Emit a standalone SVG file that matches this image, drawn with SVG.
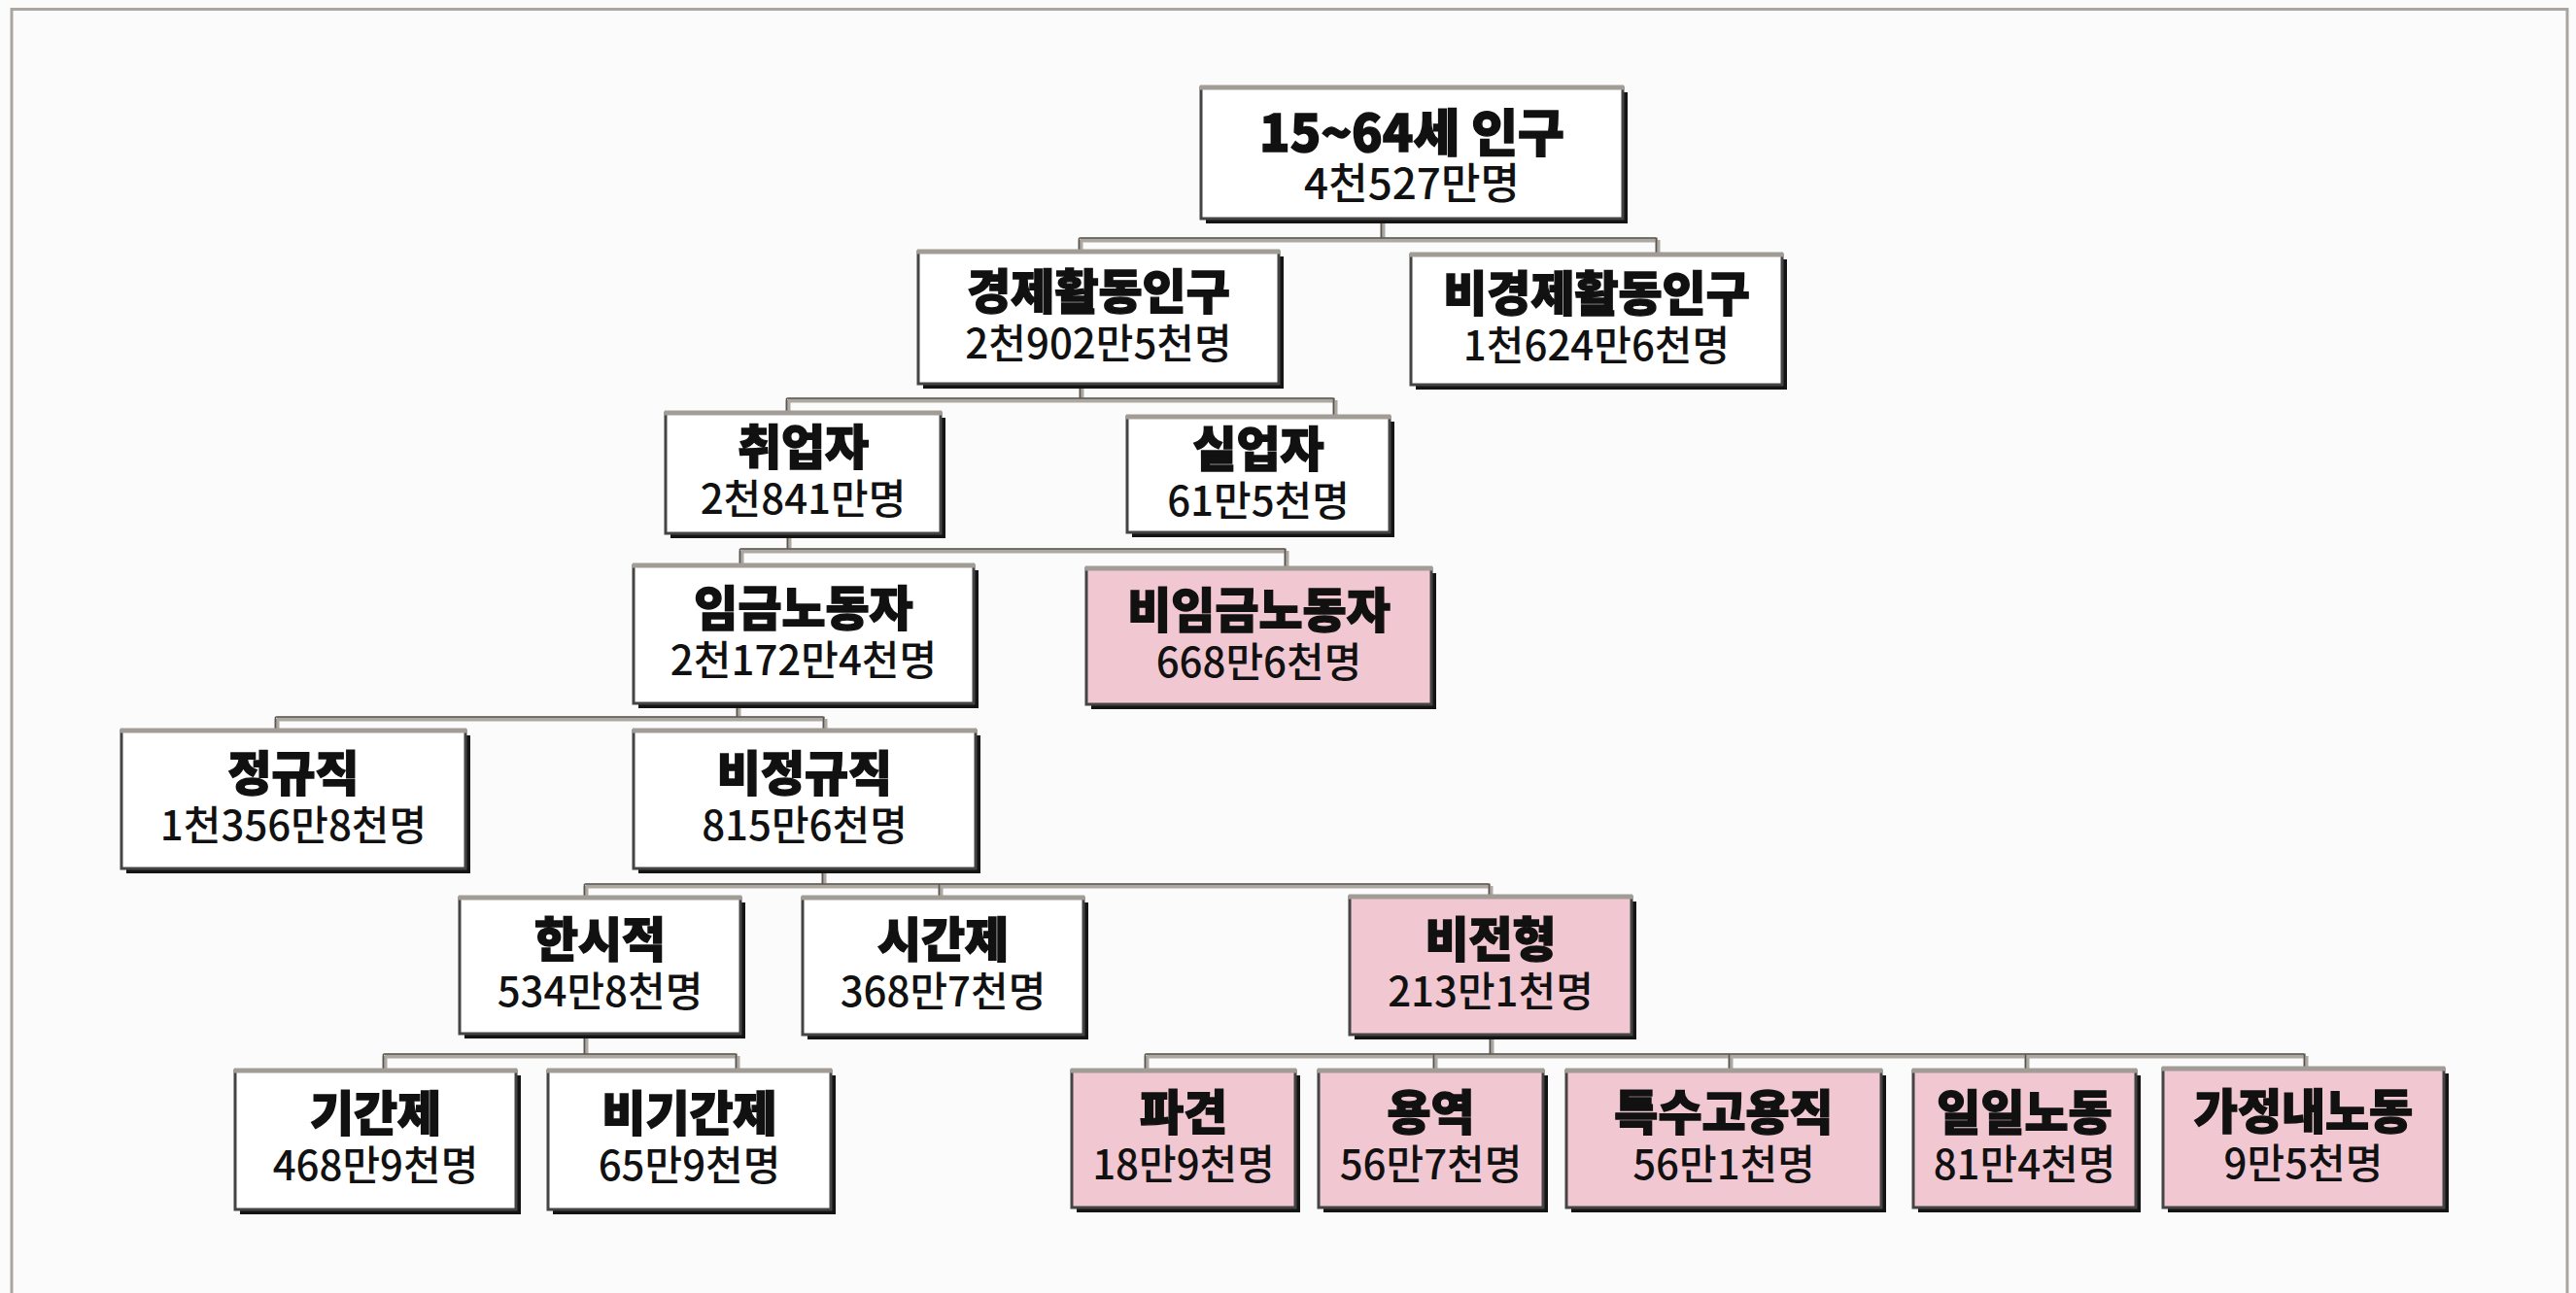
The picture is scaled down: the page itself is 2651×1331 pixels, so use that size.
<svg xmlns="http://www.w3.org/2000/svg" width="2651" height="1331" viewBox="0 0 2651 1331">
<style>
.sh{fill:#141414}
.bx{fill:#ffffff;stroke:#444;stroke-width:3}
.pk .bx{fill:#f1c8d1}
.tp{stroke:#a29c96;stroke-width:5}
text{font-family:"Noto Sans CJK KR","Noto Sans",sans-serif;fill:#111;text-anchor:middle}
.t{font-weight:900;font-size:49px;stroke:#111;stroke-width:1.4}
.s{font-weight:500;font-size:42px;stroke:none}
.cg{fill:none;stroke:#aea8a2;stroke-width:5}
.cd{fill:none;stroke:#5a5550;stroke-width:1.6}
</style>
<rect x="0" y="0" width="2651" height="1331" fill="#fbfbfb"/>
<path d="M12,1331 V9.5 H2642 V1331" fill="none" stroke="#aaa5a0" stroke-width="3"/>

<g id="connectors">
<path class="cg" d="M1423,228 V247 M1112,247 H1706 M1112,247 V259 M1706,247 V262 M1113,398 V412 M811,412 H1374 M811,412 V425 M1374,412 V429 M812,552 V567 M763,567 H1324 M763,567 V582 M1324,567 V585 M760,727 V740 M285,740 H849 M285,740 V752 M849,740 V752 M848,897 V912 M603,912 H1534 M603,912 V924 M968,912 V924 M1534,912 V923 M603,1067 V1087 M396,1087 H759 M396,1087 V1102 M759,1087 V1102 M1535,1068 V1087 M1180,1087 H2373 M1180,1087 V1102 M1477,1087 V1102 M1781,1087 V1102 M2086,1087 V1102 M2373,1087 V1100"/>
<path class="cd" transform="translate(-1.5,-2)" d="M1423,228 V247 M1112,247 H1706 M1112,247 V259 M1706,247 V262 M1113,398 V412 M811,412 H1374 M811,412 V425 M1374,412 V429 M812,552 V567 M763,567 H1324 M763,567 V582 M1324,567 V585 M760,727 V740 M285,740 H849 M285,740 V752 M849,740 V752 M848,897 V912 M603,912 H1534 M603,912 V924 M968,912 V924 M1534,912 V923 M603,1067 V1087 M396,1087 H759 M396,1087 V1102 M759,1087 V1102 M1535,1068 V1087 M1180,1087 H2373 M1180,1087 V1102 M1477,1087 V1102 M1781,1087 V1102 M2086,1087 V1102 M2373,1087 V1100"/>
</g>

<g id="n_root">
<rect class="sh" x="1241" y="95" width="434" height="135"/>
<rect class="bx" x="1236" y="90" width="434" height="135"/>
<line class="tp" x1="1235" y1="90" x2="1671" y2="90"/>
<text><tspan class="t" x="1453" y="156" style="font-size:52px">15~64세 인구</tspan><tspan class="s" x="1453" y="205" style="font-size:44px">4천527만명</tspan></text>
</g>

<g id="n_econ">
<rect class="sh" x="950" y="264" width="371" height="136"/>
<rect class="bx" x="945" y="259" width="371" height="136"/>
<line class="tp" x1="944" y1="259" x2="1317" y2="259"/>
<text><tspan class="t" x="1130.5" y="318">경제활동인구</tspan><tspan class="s" x="1130.5" y="369">2천902만5천명</tspan></text>
</g>

<g id="n_nonecon">
<rect class="sh" x="1457" y="267" width="382" height="134"/>
<rect class="bx" x="1452" y="262" width="382" height="134"/>
<line class="tp" x1="1451" y1="262" x2="1835" y2="262"/>
<text><tspan class="t" x="1643" y="320">비경제활동인구</tspan><tspan class="s" x="1643" y="371">1천624만6천명</tspan></text>
</g>

<g id="n_employed">
<rect class="sh" x="690" y="430" width="283" height="124"/>
<rect class="bx" x="685" y="425" width="283" height="124"/>
<line class="tp" x1="684" y1="425" x2="969" y2="425"/>
<text><tspan class="t" x="826.5" y="478">취업자</tspan><tspan class="s" x="826.5" y="529">2천841만명</tspan></text>
</g>

<g id="n_unemployed">
<rect class="sh" x="1165" y="434" width="270" height="119"/>
<rect class="bx" x="1160" y="429" width="270" height="119"/>
<line class="tp" x1="1159" y1="429" x2="1431" y2="429"/>
<text><tspan class="t" x="1295" y="480">실업자</tspan><tspan class="s" x="1295" y="531">61만5천명</tspan></text>
</g>

<g id="n_wage">
<rect class="sh" x="657" y="587" width="350" height="142"/>
<rect class="bx" x="652" y="582" width="350" height="142"/>
<line class="tp" x1="651" y1="582" x2="1003" y2="582"/>
<text><tspan class="t" x="827" y="644">임금노동자</tspan><tspan class="s" x="827" y="695">2천172만4천명</tspan></text>
</g>

<g id="n_nonwage" class="pk">
<rect class="sh" x="1123" y="590" width="355" height="140"/>
<rect class="bx" x="1118" y="585" width="355" height="140"/>
<line class="tp" x1="1117" y1="585" x2="1474" y2="585"/>
<text><tspan class="t" x="1295.5" y="646">비임금노동자</tspan><tspan class="s" x="1295.5" y="697">668만6천명</tspan></text>
</g>

<g id="n_regular">
<rect class="sh" x="130" y="757" width="354" height="142"/>
<rect class="bx" x="125" y="752" width="354" height="142"/>
<line class="tp" x1="124" y1="752" x2="480" y2="752"/>
<text><tspan class="t" x="302" y="814">정규직</tspan><tspan class="s" x="302" y="865">1천356만8천명</tspan></text>
</g>

<g id="n_irregular">
<rect class="sh" x="657" y="757" width="352" height="142"/>
<rect class="bx" x="652" y="752" width="352" height="142"/>
<line class="tp" x1="651" y1="752" x2="1005" y2="752"/>
<text><tspan class="t" x="828" y="814">비정규직</tspan><tspan class="s" x="828" y="865">815만6천명</tspan></text>
</g>

<g id="n_temp">
<rect class="sh" x="478" y="929" width="289" height="140"/>
<rect class="bx" x="473" y="924" width="289" height="140"/>
<line class="tp" x1="472" y1="924" x2="763" y2="924"/>
<text><tspan class="t" x="617.5" y="985">한시적</tspan><tspan class="s" x="617.5" y="1036">534만8천명</tspan></text>
</g>

<g id="n_parttime">
<rect class="sh" x="831" y="929" width="289" height="141"/>
<rect class="bx" x="826" y="924" width="289" height="141"/>
<line class="tp" x1="825" y1="924" x2="1116" y2="924"/>
<text><tspan class="t" x="970.5" y="985">시간제</tspan><tspan class="s" x="970.5" y="1036">368만7천명</tspan></text>
</g>

<g id="n_atypical" class="pk">
<rect class="sh" x="1394" y="928" width="290" height="142"/>
<rect class="bx" x="1389" y="923" width="290" height="142"/>
<line class="tp" x1="1388" y1="923" x2="1680" y2="923"/>
<text><tspan class="t" x="1534" y="985">비전형</tspan><tspan class="s" x="1534" y="1036">213만1천명</tspan></text>
</g>

<g id="n_fixed">
<rect class="sh" x="247" y="1107" width="289" height="143"/>
<rect class="bx" x="242" y="1102" width="289" height="143"/>
<line class="tp" x1="241" y1="1102" x2="532" y2="1102"/>
<text><tspan class="t" x="386.5" y="1164">기간제</tspan><tspan class="s" x="386.5" y="1215">468만9천명</tspan></text>
</g>

<g id="n_nonfixed">
<rect class="sh" x="569" y="1107" width="291" height="143"/>
<rect class="bx" x="564" y="1102" width="291" height="143"/>
<line class="tp" x1="563" y1="1102" x2="856" y2="1102"/>
<text><tspan class="t" x="709.5" y="1164">비기간제</tspan><tspan class="s" x="709.5" y="1215">65만9천명</tspan></text>
</g>

<g id="n_dispatch" class="pk">
<rect class="sh" x="1108" y="1107" width="230" height="141"/>
<rect class="bx" x="1103" y="1102" width="230" height="141"/>
<line class="tp" x1="1102" y1="1102" x2="1334" y2="1102"/>
<text><tspan class="t" x="1218" y="1163">파견</tspan><tspan class="s" x="1218" y="1214">18만9천명</tspan></text>
</g>

<g id="n_service" class="pk">
<rect class="sh" x="1362" y="1107" width="231" height="141"/>
<rect class="bx" x="1357" y="1102" width="231" height="141"/>
<line class="tp" x1="1356" y1="1102" x2="1589" y2="1102"/>
<text><tspan class="t" x="1472.5" y="1163">용역</tspan><tspan class="s" x="1472.5" y="1214">56만7천명</tspan></text>
</g>

<g id="n_special" class="pk">
<rect class="sh" x="1617" y="1107" width="324" height="141"/>
<rect class="bx" x="1612" y="1102" width="324" height="141"/>
<line class="tp" x1="1611" y1="1102" x2="1937" y2="1102"/>
<text><tspan class="t" x="1774" y="1163">특수고용직</tspan><tspan class="s" x="1774" y="1214">56만1천명</tspan></text>
</g>

<g id="n_daily" class="pk">
<rect class="sh" x="1974" y="1107" width="229" height="141"/>
<rect class="bx" x="1969" y="1102" width="229" height="141"/>
<line class="tp" x1="1968" y1="1102" x2="2199" y2="1102"/>
<text><tspan class="t" x="2083.5" y="1163">일일노동</tspan><tspan class="s" x="2083.5" y="1214">81만4천명</tspan></text>
</g>

<g id="n_domestic" class="pk">
<rect class="sh" x="2231" y="1105" width="289" height="143"/>
<rect class="bx" x="2226" y="1100" width="289" height="143"/>
<line class="tp" x1="2225" y1="1100" x2="2516" y2="1100"/>
<text><tspan class="t" x="2370.5" y="1162">가정내노동</tspan><tspan class="s" x="2370.5" y="1213">9만5천명</tspan></text>
</g>
</svg>
